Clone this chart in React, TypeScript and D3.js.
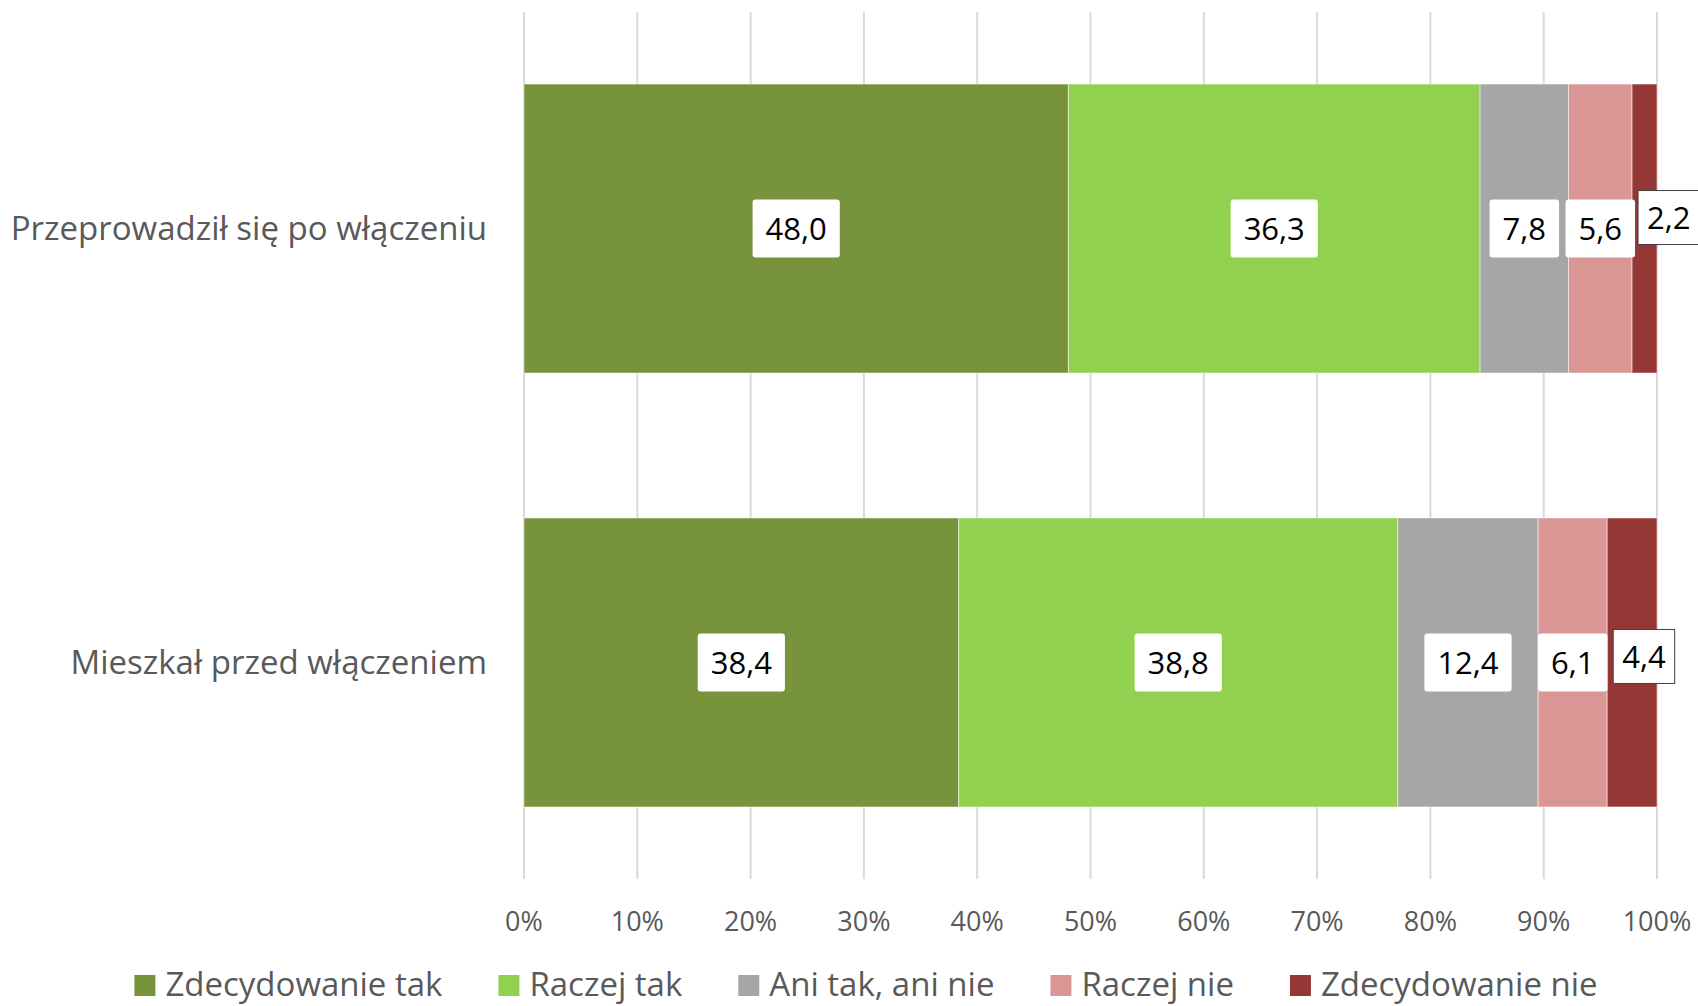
import React, { useEffect, useRef } from "react";
import * as d3 from "d3";

// categories (top to bottom) and the answer series
const categories = ["Przeprowadził się po włączeniu", "Mieszkał przed włączeniem"];
const seriesNames = ["Zdecydowanie tak", "Raczej tak", "Ani tak, ani nie", "Raczej nie", "Zdecydowanie nie"];
const movedAfter = [48.0, 36.3, 7.8, 5.6, 2.2];
const livedBefore = [38.4, 38.8, 12.4, 6.1, 4.4];
const seriesColors = ["#77933C", "#92D050", "#A6A6A6", "#D99694", "#953735"];

const W = 1698;
const H = 1006;
const FONT = "'Open Sans', sans-serif";
const TEXT = "#595959";

const plPL = d3.formatLocale({ decimal: ",", thousands: " ", grouping: [3], currency: ["", " zł"] });
const fmtValue = plPL.format(".1f");

type Row = { category: string; [k: string]: number | string };

export default function App() {
  const ref = useRef<SVGSVGElement | null>(null);

  useEffect(() => {
    const svg = d3.select(ref.current);
    svg.selectAll("*").remove();

    const rows: Row[] = categories.map((c, i) => {
      const vals = i === 0 ? movedAfter : livedBefore;
      const r: Row = { category: c };
      seriesNames.forEach((s, j) => (r[s] = vals[j]));
      return r;
    });

    const stacked = d3
      .stack<Row>()
      .keys(seriesNames)
      .value((d, k) => d[k] as number)
      .offset(d3.stackOffsetExpand)(rows);

    const x = d3.scaleLinear().domain([0, 1]).range([524, 1657]);
    const y = d3
      .scaleBand<string>()
      .domain(categories)
      .range([12, 879])
      .paddingInner(0.334)
      .paddingOuter(0.166);

    // gridlines
    svg
      .append("g")
      .selectAll("line")
      .data(x.ticks(10))
      .join("line")
      .attr("x1", (d) => x(d))
      .attr("x2", (d) => x(d))
      .attr("y1", 12)
      .attr("y2", 879)
      .attr("stroke", "#D9D9D9")
      .attr("stroke-width", 2);

    // bars
    const layers = svg
      .append("g")
      .selectAll("g")
      .data(stacked)
      .join("g")
      .attr("fill", (_, i) => seriesColors[i]);

    layers
      .selectAll("rect")
      .data((d) => d)
      .join("rect")
      .attr("x", (d) => x(d[0]))
      .attr("width", (d) => x(d[1]) - x(d[0]))
      .attr("y", (d) => y(d.data.category)!)
      .attr("height", y.bandwidth())
      .attr("stroke", "#fff")
      .attr("stroke-opacity", 0.5)
      .attr("stroke-width", 1);

    // value labels
    const labelG = svg.append("g").attr("font-family", FONT).attr("font-size", 31);
    const lastIdx = seriesNames.length - 1;
    const lastNudge = [-11, -6];
    stacked.forEach((layer, si) => {
      layer.forEach((d, ri) => {
        const raw = d.data[seriesNames[si]] as number;
        const cy = y(d.data.category)! + y.bandwidth() / 2;
        const g = labelG.append("g");
        const t = g
          .append("text")
          .attr("text-anchor", "middle")
          .attr("dy", "0.38em")
          .attr("fill", "#000")
          .text(fmtValue(raw));
        const tw = (t.node() as SVGTextElement).getComputedTextLength();
        if (si === lastIdx) {
          const bw = tw + 18;
          const bh = 54;
          const left = x(d[0]) + 6;
          const ccy = cy + lastNudge[ri];
          g.insert("rect", "text")
            .attr("x", left)
            .attr("y", ccy - bh / 2)
            .attr("width", bw)
            .attr("height", bh)
            .attr("fill", "#fff")
            .attr("stroke", "#404040")
            .attr("stroke-width", 1);
          t.attr("x", left + bw / 2).attr("y", ccy);
        } else {
          const bw = tw + 26;
          const bh = 58;
          const cx = (x(d[0]) + x(d[1])) / 2;
          g.insert("rect", "text")
            .attr("x", cx - bw / 2)
            .attr("y", cy - bh / 2)
            .attr("width", bw)
            .attr("height", bh)
            .attr("rx", 3)
            .attr("fill", "#fff");
          t.attr("x", cx).attr("y", cy);
        }
      });
    });

    // category labels
    svg
      .append("g")
      .selectAll("text")
      .data(categories)
      .join("text")
      .attr("x", 487)
      .attr("y", (d) => y(d)! + y.bandwidth() / 2)
      .attr("dy", "0.35em")
      .attr("text-anchor", "end")
      .attr("font-family", FONT)
      .attr("font-size", 33)
      .attr("fill", TEXT)
      .text((d) => d);

    // x tick labels
    svg
      .append("g")
      .selectAll("text")
      .data(x.ticks(10))
      .join("text")
      .attr("x", (d) => x(d))
      .attr("y", 931)
      .attr("text-anchor", "middle")
      .attr("font-family", FONT)
      .attr("font-size", 27)
      .attr("fill", TEXT)
      .text((d) => d3.format(".0%")(d));

    // legend
    const leg = svg.append("g").attr("font-family", FONT).attr("font-size", 33).attr("fill", TEXT);
    const items = leg
      .selectAll("g")
      .data(seriesNames)
      .join("g");
    items
      .append("rect")
      .attr("width", 21)
      .attr("height", 21)
      .attr("y", 975)
      .attr("fill", (_, i) => seriesColors[i]);
    items
      .append("text")
      .attr("x", 31)
      .attr("y", 996)
      .text((d) => d);
    const widths = items.nodes().map((n) => 31 + (n.querySelector("text") as SVGTextElement).getComputedTextLength());
    const gap = 56;
    const total = d3.sum(widths) + gap * (widths.length - 1);
    let cursor = 866 - total / 2;
    items.attr("transform", (_, i) => {
      const tx = cursor;
      cursor += widths[i] + gap;
      return `translate(${tx},0)`;
    });
  }, []);

  return (
    <svg
      ref={ref}
      width={W}
      height={H}
      style={{ position: "absolute", left: 0, top: 0, background: "#fff" }}
    />
  );
}
